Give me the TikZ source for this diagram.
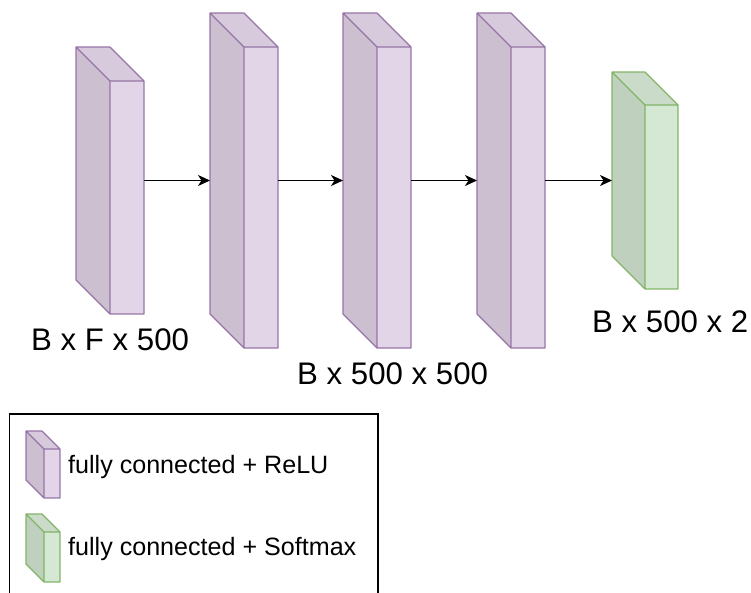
\documentclass[tikz,border=0pt]{standalone}
\usepackage{fontspec}
\setmainfont{Liberation Sans}
\usetikzlibrary{arrows.meta}

\definecolor{purpleFront}{HTML}{E1D5E7}
\definecolor{purpleTop}{HTML}{D6CADC}
\definecolor{purpleSide}{HTML}{CBBFD0}
\definecolor{purpleLine}{HTML}{9673A6}
\definecolor{greenFront}{HTML}{D5E8D4}
\definecolor{greenTop}{HTML}{CADCC9}
\definecolor{greenSide}{HTML}{BFD1BE}
\definecolor{greenLine}{HTML}{82B366}

\tikzset{
  cubebox/.style={inner sep=0pt, outer sep=0pt},
  flow/.style={line width=1.8pt, -{Stealth[length=12pt, width=11pt, inset=3.5pt]}},
  dimlabel/.style={inner sep=0pt, anchor=base west, font=\fontsize{31.2}{36}\selectfont},
  legendtext/.style={inner sep=0pt, anchor=base west, font=\fontsize{25.1}{30}\selectfont},
  legendframe/.style={draw=black, line width=1.3pt},
}

% \cuboid{name}{left}{top}{front width}{height}{depth}{colour family}
\newcommand\cuboid[7]{%
  \node[cubebox, anchor=north west, minimum width=#4pt+#6pt, minimum height=#5pt] (#1) at (#2,#3) {};
  \fill[#7Side] (#1.north west) -- ++(#6,#6) -- ([xshift=#6pt]#1.south west)
     -- ([shift={(0,-#6)}]#1.south west) -- cycle;
  \fill[#7Top] (#1.north west) -- ++(#4,0) -- ++(#6,#6) -- ++(-#4,0) -- cycle;
  \fill[#7Front] ([shift={(#6,#6)}]#1.north west) rectangle (#1.south east);
  \draw[#7Line, line width=1.2pt, line join=round]
     (#1.north west) -- ++(#4,0) -- ++(#6,#6) -- (#1.south east) -- ++(-#4,0)
     -- ([shift={(0,-#6)}]#1.south west) -- cycle
     (#1.north west) -- ++(#6,#6) -- ++(#4,0)
     ([shift={(#6,#6)}]#1.north west) -- ([xshift=#6pt]#1.south west);
}

\begin{document}
\begin{tikzpicture}[x=1pt, y=-1pt]
  \useasboundingbox (0,0) rectangle (751,592);

  % layer blocks
  \cuboid{b1}{76}{47}{34}{267}{34}{purple}
  \cuboid{b2}{210}{13}{34}{335}{34}{purple}
  \cuboid{b3}{343}{13}{34}{335}{34}{purple}
  \cuboid{b4}{477}{13}{34}{335}{34}{purple}
  \cuboid{b5}{612}{72}{33}{217}{33}{green}

  % connections between layers
  \draw[flow] (b1.east) -- (b2.west);
  \draw[flow] (b2.east) -- (b3.west);
  \draw[flow] (b3.east) -- (b4.west);
  \draw[flow] (b4.east) -- (b5.west);

  % tensor shapes
  \node[dimlabel] (l1) at (31,350) {B x F x 500};
  \node[dimlabel] (l2) at (297,384) {B x 500 x 500};
  \node[dimlabel] (l3) at (592,332) {B x 500 x 2};

  % legend
  \begin{scope}
    \clip (0,0) rectangle (751,592);
    \draw[legendframe] (9.5,414) rectangle (378,600);
  \end{scope}
  \cuboid{k1}{26}{431}{16}{67}{18}{purple}
  \cuboid{k2}{26}{514}{16}{68}{18}{green}
  \node[legendtext] (t1) at (68,473) {fully connected + ReLU};
  \node[legendtext] (t2) at (68,555) {fully connected + Softmax};
\end{tikzpicture}
\end{document}
